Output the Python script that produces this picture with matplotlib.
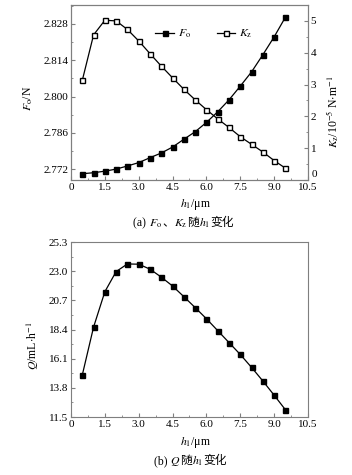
import matplotlib
matplotlib.use("Agg")
import matplotlib.pyplot as plt
from matplotlib.offsetbox import TextArea, HPacker, AnchoredOffsetbox
from matplotlib.ticker import MultipleLocator, FormatStrFormatter

plt.rcParams["font.family"] = ["Liberation Serif", "Noto Sans CJK SC"]
plt.rcParams["mathtext.fontset"] = "stix"
plt.rcParams["font.size"] = 8

# data
h1 = [0.5, 1.0, 1.5, 2.0, 2.5, 3.0, 3.5, 4.0, 4.5, 5.0,
      5.5, 6.0, 6.5, 7.0, 7.5, 8.0, 8.5, 9.0, 9.5]
f_o = [2.7702, 2.7706, 2.7712, 2.7720, 2.7732, 2.7745, 2.7764, 2.7782, 2.7805, 2.7835,
       2.7864, 2.7900, 2.7941, 2.7987, 2.8040, 2.8095, 2.8161, 2.8230, 2.8306]
k_z = [3.13, 4.56, 5.02, 5.00, 4.73, 4.37, 3.97, 3.58, 3.21, 2.85,
       2.52, 2.21, 1.92, 1.65, 1.36, 1.12, 0.88, 0.61, 0.37]
q = [14.81, 18.59, 21.38, 22.97, 23.57, 23.55, 23.16, 22.53, 21.83, 20.99,
     20.13, 19.25, 18.31, 17.37, 16.43, 15.41, 14.34, 13.22, 12.07]

SPINE = "#7f7f7f"
CJK = ["Noto Sans CJK SC"]
SERIF = ["Liberation Serif"]


def _style(ax, x_major, y_major):
    for s in ax.spines.values():
        s.set_color(SPINE)
        s.set_linewidth(0.8)
    ax.tick_params(which="both", direction="in", color=SPINE, labelsize=8, pad=2)
    ax.tick_params(which="major", length=3)
    ax.tick_params(which="minor", length=1.5)
    ax.xaxis.set_major_locator(MultipleLocator(x_major))
    ax.xaxis.set_minor_locator(MultipleLocator(x_major / 2))
    ax.yaxis.set_major_locator(MultipleLocator(y_major))
    ax.yaxis.set_minor_locator(MultipleLocator(y_major / 2))


def _caption(fig, parts, x, y):
    areas = [TextArea(txt, textprops=dict(fontsize=8.5, family=fam)) for txt, fam in parts]
    box = HPacker(children=areas, align="baseline", pad=0, sep=0)
    anchored = AnchoredOffsetbox(loc="center", child=box, pad=0, borderpad=0, frameon=False,
                                 bbox_to_anchor=(x, y), bbox_transform=fig.transFigure)
    fig.add_artist(anchored)


fig = plt.figure(figsize=(3.52, 4.75), dpi=100)

# (a) F_o and K_z
ax1 = fig.add_axes([0.2017, 0.6211, 0.6733, 0.3684])
ax1.plot(h1, f_o, "-s", color="black", lw=0.9, ms=3.6, mfc="black", mec="black", label=r"$F_\mathrm{o}$")
ax1.set_xlim(0, 10.5)
ax1.set_ylim(2.7678, 2.8353)
_style(ax1, 1.5, 0.014)
ax1.xaxis.set_major_formatter(lambda v, p: "0" if v == 0 else f"{v:.1f}")
ax1.yaxis.set_major_formatter(FormatStrFormatter("%.3f"))

ax2 = ax1.twinx()
ax2.plot(h1, k_z, "-s", color="black", lw=0.9, ms=3.6, mfc="white", mec="black", label=r"$K_\mathrm{z}$")
ax2.set_ylim(0, 5.5)
_style(ax2, 1.5, 1)
# the "0" of the right axis sits a bit higher in the reference, drawn separately below
ax2.yaxis.set_major_formatter(lambda v, p: "" if v == 0 else f"{v:.0f}")
ax2.annotate("0", xy=(1, 0), xycoords="axes fraction", xytext=(2.5, 0.5),
             textcoords="offset points", ha="left", va="bottom", fontsize=8)

h_a, l_a = ax1.get_legend_handles_labels()
h_b, l_b = ax2.get_legend_handles_labels()
ax1.legend(h_a + h_b, l_a + l_b, ncol=2, frameon=False, loc="center",
           bbox_to_anchor=(0.56, 0.833), handlelength=1.6, handletextpad=0.3,
           columnspacing=2.2, fontsize=8.5)

fig.text(0.08, 1 - 98 / 475, r"$F_\mathrm{o}$/N", rotation=90, ha="center", va="center", fontsize=8.5)
fig.text(0.945, 1 - 112 / 475, r"$K_\mathrm{z}$/10$^{-5}$ N$\cdot$m$^{-1}$", rotation=90,
         ha="center", va="center", fontsize=8.5)
fig.text(0.555, 1 - 205 / 475, r"$h_1$/μm", ha="center", va="center", fontsize=8.5)
_caption(fig, [("(a) ", SERIF), (r"$F_\mathrm{o}$", SERIF), ("、", CJK), (r"$K_\mathrm{z}$", SERIF),
               ("随", CJK), (r"$h_1$", SERIF), ("变化", CJK)], 0.521, 1 - 223 / 475)

# (b) Q
ax3 = fig.add_axes([0.2017, 0.1221, 0.6733, 0.3684])
ax3.plot(h1, q, "-s", color="black", lw=0.9, ms=3.6, mfc="black", mec="black")
ax3.set_xlim(0, 10.5)
ax3.set_ylim(11.5, 25.3)
_style(ax3, 1.5, 2.3)
ax3.xaxis.set_major_formatter(lambda v, p: "0" if v == 0 else f"{v:.1f}")
ax3.yaxis.set_major_formatter(FormatStrFormatter("%.1f"))

fig.text(0.094, 1 - 346 / 475, r"$Q$/mL$\cdot$h$^{-1}$", rotation=90, ha="center", va="center", fontsize=8.5)
fig.text(0.555, 1 - 442 / 475, r"$h_1$/μm", ha="center", va="center", fontsize=8.5)
_caption(fig, [("(b) ", SERIF), (r"$Q$", SERIF), ("随", CJK), (r"$h_1$", SERIF), ("变化", CJK)],
         0.54, 1 - 461 / 475)

fig.savefig("out.png", dpi=100)
